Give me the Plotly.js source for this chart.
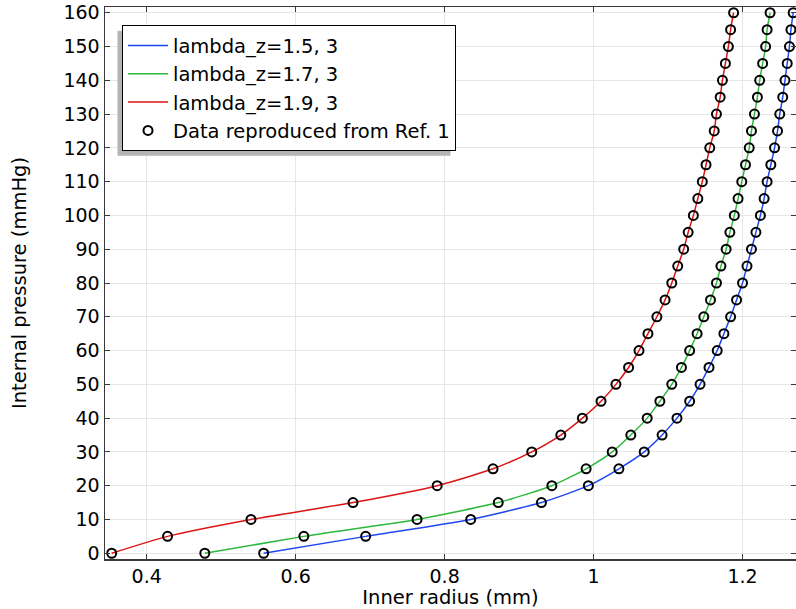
<!DOCTYPE html>
<html>
<head>
<meta charset="utf-8">
<script src="https://cdn.plot.ly/plotly-3.0.1.min.js"></script>
<style>html,body{margin:0;padding:0;background:#fff;}#plot{width:796px;height:609px;}</style>
</head>
<body>
<div id="plot"></div>
<script>
// Internal pressure (mmHg)
const pressure = [0,5,10,15,20,25,30,35,40,45,50,55,60,65,70,75,80,85,90,95,100,105,110,115,120,125,130,135,140,145,150,155,160];
// Inner radius (mm) for each axial stretch
const radius_15 = [0.557,0.694,0.835,0.930,0.993,1.034,1.068,1.092,1.112,1.129,1.143,1.155,1.166,1.175,1.184,1.192,1.200,1.206,1.212,1.218,1.224,1.229,1.233,1.238,1.243,1.247,1.250,1.254,1.257,1.260,1.263,1.265,1.268];
const radius_17 = [0.478,0.611,0.763,0.872,0.944,0.990,1.025,1.050,1.072,1.089,1.105,1.118,1.129,1.139,1.148,1.157,1.165,1.171,1.178,1.183,1.189,1.194,1.199,1.204,1.209,1.212,1.216,1.220,1.223,1.227,1.231,1.233,1.237];
const radius_19 = [0.353,0.428,0.540,0.677,0.790,0.865,0.917,0.956,0.985,1.010,1.030,1.047,1.061,1.073,1.085,1.096,1.105,1.113,1.121,1.127,1.134,1.140,1.146,1.151,1.156,1.162,1.165,1.170,1.173,1.177,1.181,1.184,1.188];
const seriesNames = ["lambda_z=1.5, 3","lambda_z=1.7, 3","lambda_z=1.9, 3"];
const dataName = "Data reproduced from Ref. 1";
const xTicks = [0.4,0.6,0.8,1,1.2];
const yTicks = [0,10,20,30,40,50,60,70,80,90,100,110,120,130,140,150,160];

const colors = ["#1f47f0","#2eb83e","#dd1414"];
const curves = [radius_15, radius_17, radius_19];

const traces = curves.map((r,i)=>({
  x: r, y: pressure, type:"scatter", mode:"lines", name: seriesNames[i],
  line:{color:colors[i], width:1.5, shape:"spline", smoothing:0.6}
}));
traces.push({
  x: [].concat(radius_15, radius_17, radius_19),
  y: [].concat(pressure, pressure, pressure),
  type:"scatter", mode:"markers", name:dataName,
  marker:{symbol:"circle-open", size:9, color:"#000", line:{width:2, color:"#000"}}
});

const font = {family:"DejaVu Sans, sans-serif", size:19, color:"#000"};
const layout = {
  width:796, height:609,
  margin:{l:105, r:0, t:7, b:50},
  paper_bgcolor:"#fff", plot_bgcolor:"#fff",
  font: font,
  showlegend:true,
  legend:{x:0.0246, y:0.967, xanchor:"left", yanchor:"top",
    bgcolor:"#fff", bordercolor:"#000", borderwidth:1, itemwidth:40,
    font:{family:"DejaVu Sans, sans-serif", size:19.5, color:"#000"}, tracegroupgap:0},
  xaxis:{range:[0.344,1.2718], tickvals:xTicks, ticktext:xTicks.map(String),
    showgrid:true, gridcolor:"#e6e6e6", gridwidth:1, zeroline:false,
    showline:true, linecolor:"#3a3a3a", linewidth:1.5, mirror:"ticks",
    ticks:"inside", ticklen:5, tickcolor:"#3a3a3a",
    tickfont:{size:19},
    title:{text:"Inner radius (mm)", font:{size:19.5}, standoff:0}},
  yaxis:{range:[-1.7,161.7], tickvals:yTicks,
    showgrid:true, gridcolor:"#e6e6e6", gridwidth:1, zeroline:false,
    showline:true, linecolor:"#3a3a3a", linewidth:1.5, mirror:"ticks",
    ticks:"inside", ticklen:5, tickcolor:"#3a3a3a",
    tickfont:{size:19},
    title:{text:"Internal pressure (mmHg)", font:{size:19.5}, standoff:31}}
};
Plotly.newPlot("plot", traces, layout, {staticPlot:true, displayModeBar:false}).then(gd=>{
  const bg = gd.querySelector(".legend rect.bg");
  if(!bg) return;
  const r = bg.getBoundingClientRect();
  const pr = gd.getBoundingClientRect();
  const fs = gd._fullLayout._size;
  const px2x = p => (p - pr.left - fs.l)/fs.w;
  const px2y = p => 1 - (p - pr.top - fs.t)/fs.h;
  const off = 5;
  Plotly.relayout(gd, {shapes:[{type:"rect", xref:"paper", yref:"paper", layer:"above",
    x0:px2x(r.left-off), x1:px2x(r.right-off), y0:px2y(r.bottom+off), y1:px2y(r.top+off),
    fillcolor:"#b4b4b4", line:{width:0}}]});
});
</script>
</body>
</html>
